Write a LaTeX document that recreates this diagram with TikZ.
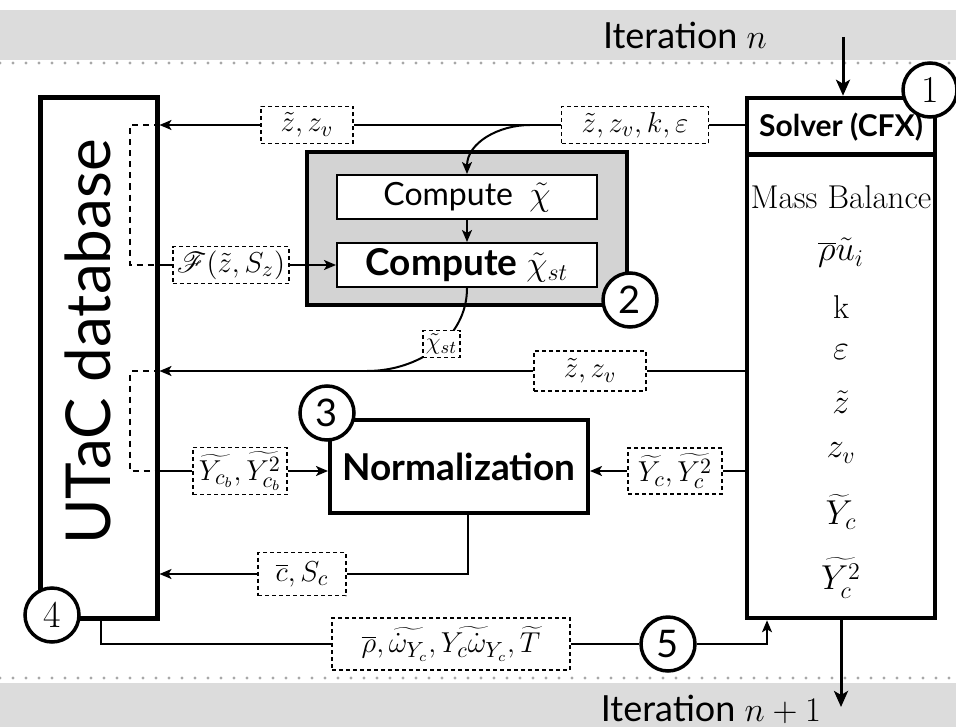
\documentclass[tikz,border=0pt]{standalone}
\usepackage{fontspec}
\setsansfont{Lato}
\usepackage{mathrsfs}
\usetikzlibrary{arrows.meta}
\definecolor{bandGrey}{HTML}{DCDCDC}
\definecolor{dotGrey}{HTML}{A8A8A8}
\definecolor{boxGrey}{HTML}{D3D3D3}
\newcommand{\fsz}[1]{\fontsize{#1}{#1}\selectfont}
\tikzset{
  frame/.style={draw,line width=2.25pt,fill=white,inner sep=0pt},
  cbox/.style={draw,line width=1pt,fill=white,inner sep=0pt,
               minimum width=130pt,minimum height=22pt,font=\sffamily\fsz{16}},
  lbl/.style={draw,line width=0.6pt,dash pattern=on 2pt off 1.5pt,fill=white,
              inner sep=2pt,font=\fsz{15}},
  num/.style={circle,draw,line width=1.75pt,fill=white,minimum size=27pt,
              inner sep=0pt,font=\sffamily\fsz{19}},
  var/.style={font=\fsz{16.5}},
  iter/.style={font=\sffamily\fsz{18},anchor=east},
  conn/.style={line width=1pt},
  arr/.style={conn,-{Stealth[length=6pt,width=5pt,inset=1.5pt]}},
  bigarr/.style={line width=1.5pt,-{Stealth[length=8pt,width=7pt,inset=2pt]}},
  brk/.style={line width=1pt,dash pattern=on 3pt off 2.5pt},
  sepline/.style={dotGrey,line width=1.6pt,line cap=round,dash pattern=on 0pt off 6.5pt},
}

\begin{document}
\begin{tikzpicture}[x=0.5pt,y=-0.5pt]
    \useasboundingbox (0,0) rectangle (956,727);
    % --- iteration bands
    \fill[bandGrey] (0,10) rectangle (956,60);
    \fill[bandGrey] (0,683) rectangle (956,727);
    \draw[sepline] (0,63) -- (956,63);
    \draw[sepline] (0,678) -- (956,678);
    \node[iter] at (774,35) (itn)  {Iteration $n$};
    \node[iter] at (828,709) (itn1) {Iteration $n+1$};

    % --- solver column
    \node[frame,minimum width=94pt,minimum height=260pt] at (841,358) (solver) {};
    \draw[line width=2.25pt] ([yshift=-29.5pt]solver.north west) -- ([yshift=-29.5pt]solver.north east);
    \node[font=\sffamily\bfseries\fsz{15}] at (841,127) (shead) {Solver (CFX)};
    \node[var] at (841,197) (vmb)  {Mass Balance};
    \node[var] at (841,253) (vmom) {$\overline{\rho}\tilde{u}_i$};
    \node[var] at (841,307) (vk)   {$\mathrm{k}$};
    \node[var] at (841,352) (veps) {$\varepsilon$};
    \node[var] at (841,402) (vz)   {$\tilde{z}$};
    \node[var] at (841,453) (vzv)  {$z_v$};
    \node[var] at (841,512) (vyc)  {$\widetilde{Y}_c$};
    \node[var] at (841,578) (vyc2) {$\widetilde{Y_c^2}$};

    % --- database
    \node[frame,line width=2.5pt,minimum width=58.5pt,minimum height=260pt] at (98.5,358) (utac) {};
    \node[rotate=90,font=\sffamily\fsz{31}] at (88,342) (utactxt) {UTaC database};
    \coordinate (bx) at (130,0);

    % --- chi computation
    \node[frame,fill=boxGrey,line width=2pt,minimum width=160pt,minimum height=76.5pt] at (467,228.5) (grp) {};
    \node[cbox] at (467,197) (chi) {Compute~~$\tilde{\chi}$\hspace{22pt}};
    \node[cbox,font=\sffamily\bfseries\fsz{18.5}] at (467,265) (chist) {Compute $\tilde{\chi}_{st}$\hspace{8pt}};

    % --- normalization
    \node[frame,line width=2pt,minimum width=129pt,minimum height=46.5pt,
          font=\sffamily\bfseries\fsz{18.5}] at (459,466.5) (norm) {Normalization};

    % --- step numbers
    \node[num,font=\rmfamily\fsz{19}] at (930,90) (n1) {1};
    \node[num] at (630,300) (n2) {2};
    \node[num] at (327,413) (n3) {3};
    \node[num,font=\rmfamily\fsz{19}] at (52,615) (n4) {4};
    \node[num] at (668,644) (n5) {5};

    % --- exchanged fields
    \node[lbl,minimum width=73.5pt,minimum height=18.5pt] at (635,125) (lkin) {$\tilde{z}, z_v, k, \varepsilon$};
    \node[lbl,minimum width=46pt,minimum height=18.5pt]   at (307,125) (lzt)  {$\tilde{z}, z_v$};
    \node[lbl,minimum width=55.5pt,minimum height=18pt]   at (231,265) (lF)   {$\mathscr{F}(\tilde{z}, S_z)$};
    \node[lbl,minimum width=56pt,minimum height=20pt]     at (590,371) (lzm)  {$\tilde{z}, z_v$};
    \node[lbl,minimum width=47pt,minimum height=23pt]     at (240,471) (lYb)  {$\widetilde{Y_{c_b}}, \widetilde{Y_{c_b}^2}$};
    \node[lbl,minimum width=47pt,minimum height=23pt]     at (675,471) (lYc)  {$\widetilde{Y_c}, \widetilde{Y_c^2}$};
    \node[lbl,minimum width=44pt,minimum height=21.5pt]   at (302,574) (lcs)  {$\overline{c}, S_c$};
    \node[lbl,minimum width=119pt,minimum height=26pt]    at (451,644) (lsrc)
      {$\overline{\rho}, \widetilde{\dot{\omega}_{Y_c}}, \widetilde{Y_c\dot{\omega}_{Y_c}}, \widetilde{T}$};

    % --- top exchange
    \draw[conn] (solver.west |- lkin) -- (lkin);
    \draw[conn] (lkin) -- (lzt);
    \draw[arr]  (lzt) -- (utac.east |- lzt);
    \coordinate (split) at (530,125);
    \draw[arr]  (split) to[out=180,in=90] (chi.north);
    \draw[arr]  (chi) -- (chist);
    \draw[brk]  (utac.east |- lzt) -- (bx |- lzt) -- (bx |- lF) -- (utac.east |- lF);
    \draw[conn] (utac.east |- lF) -- (lF);
    \draw[arr]  (lF) -- (chist);

    % --- middle exchange
    \coordinate (merge) at (367,371);
    \draw[conn] (chist.south) to[out=-90,in=0]
      node[lbl,font=\fsz{13},inner sep=1.5pt,pos=0.45] (lchi) {$\tilde{\chi}_{st}$} (merge);
    \draw[conn] (solver.west |- lzm) -- (lzm);
    \draw[arr]  (lzm) -- (utac.east |- lzm);
    \draw[brk]  (utac.east |- lzm) -- (bx |- lzm) -- (bx |- lYb) -- (utac.east |- lYb);
    \draw[conn] (utac.east |- lYb) -- (lYb);
    \draw[arr]  (lYb) -- (norm.west |- lYb);
    \draw[conn] (solver.west |- lYc) -- (lYc);
    \draw[arr]  (lYc) -- (norm.east |- lYc);
    \draw[conn] ([xshift=4.5pt]norm.south) |- (lcs);
    \draw[arr]  (lcs) -- (utac.east |- lcs);

    % --- source terms back to solver
    \draw[conn] ([xshift=1.25pt]utac.south) |- (lsrc);
    \draw[conn] (lsrc) -- (n5);
    \draw[arr]  (n5) -| ([xshift=-37pt]solver.south);

    % --- iteration flow
    \coordinate (prev) at (843,37);
    \coordinate (next) at (841,707);
    \draw[bigarr] (prev) -- (solver.north -| prev);
    \draw[bigarr] (solver.south) -- (next);
\end{tikzpicture}
\end{document}
